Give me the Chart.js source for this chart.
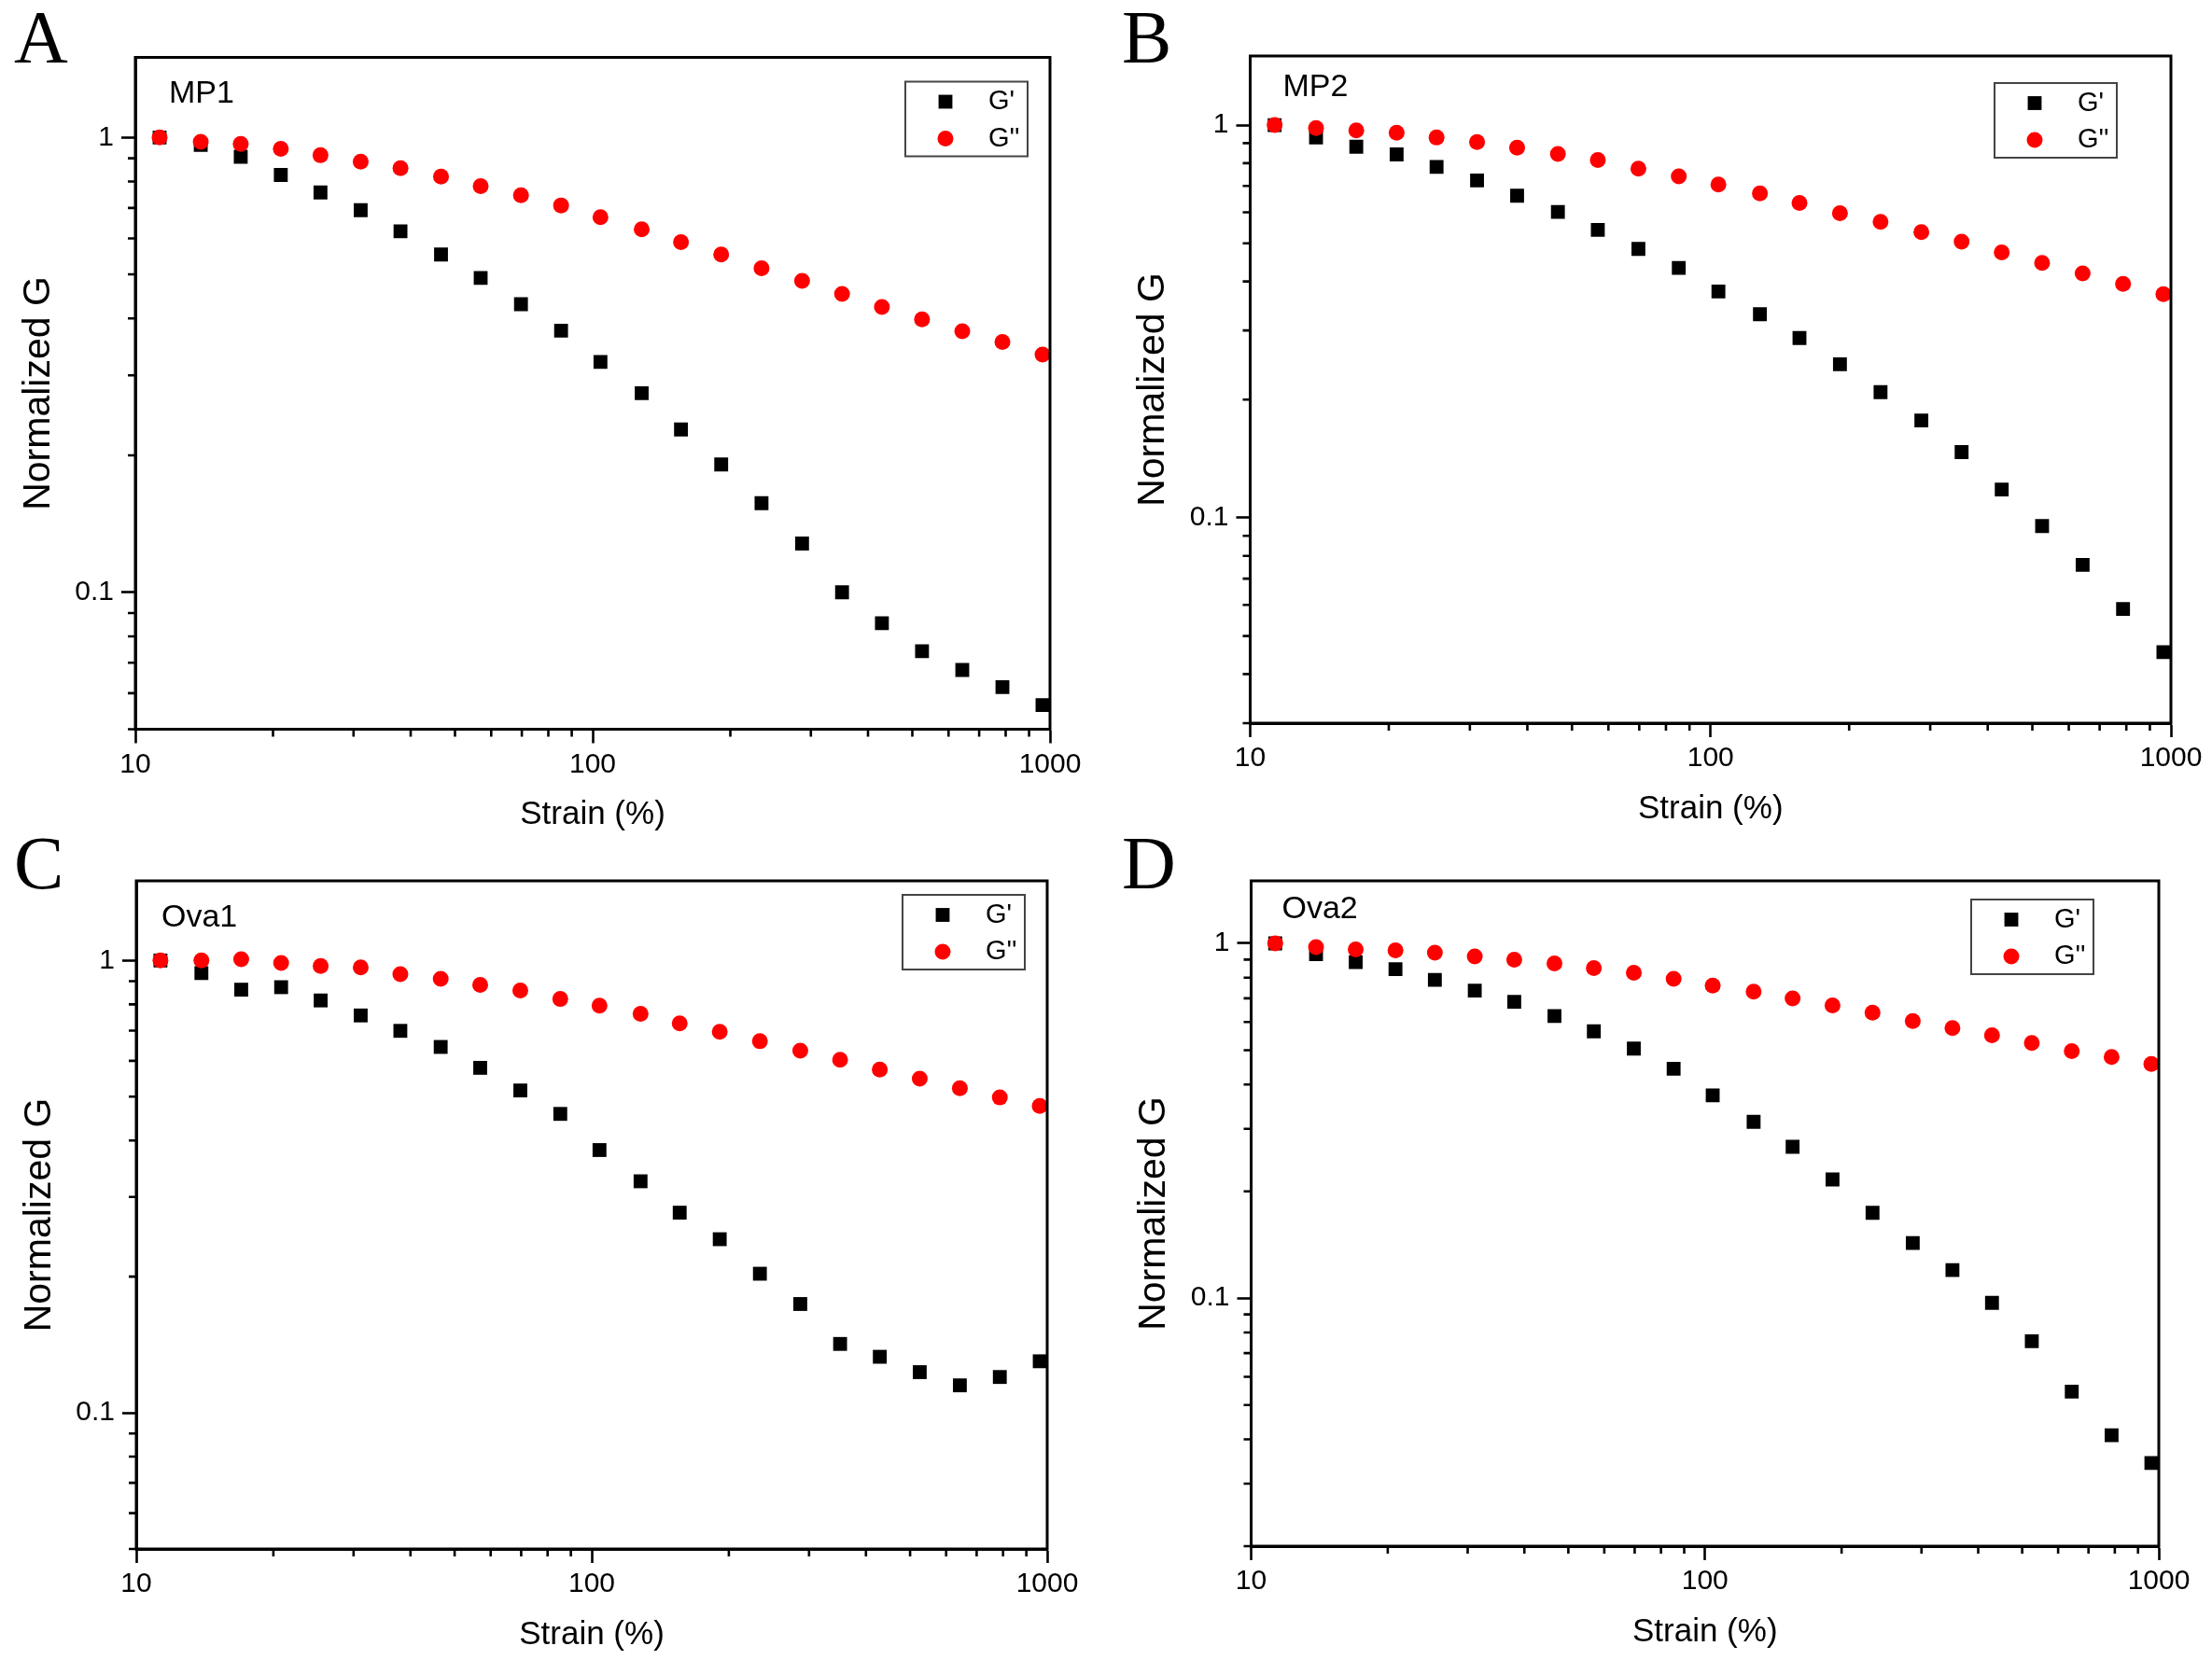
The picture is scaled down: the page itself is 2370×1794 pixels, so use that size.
<!DOCTYPE html>
<html>
<head>
<meta charset="utf-8">
<script src="https://cdn.jsdelivr.net/npm/chart.js@4.4.1/dist/chart.umd.min.js"></script>
<style>
html, body { margin: 0; padding: 0; background: #ffffff; }
#wrap { position: relative; width: 2370px; height: 1794px; background: #ffffff; }
.panel { position: absolute; width: 1185px; height: 897px; }
canvas { display: block; }
</style>
</head>
<body>
<div id="wrap">
  <div class="panel" style="left:0px;top:0px"><canvas id="cA" width="1185" height="897"></canvas></div>
  <div class="panel" style="left:1185px;top:0px"><canvas id="cB" width="1185" height="897"></canvas></div>
  <div class="panel" style="left:0px;top:897px"><canvas id="cC" width="1185" height="897"></canvas></div>
  <div class="panel" style="left:1185px;top:897px"><canvas id="cD" width="1185" height="897"></canvas></div>
</div>
<script>
// ---------------- DATA ----------------
const strain = [11.3, 13.9, 17.0, 20.8, 25.4, 31.1, 38.0, 46.6, 56.9, 69.7, 85.3, 104, 128, 156, 191, 234, 287, 351, 429, 525, 643, 787, 963];

const mp1Storage = [1.0, 0.963, 0.907, 0.827, 0.757, 0.692, 0.622, 0.553, 0.491, 0.430, 0.376, 0.321, 0.274, 0.228, 0.191, 0.157, 0.128, 0.100, 0.0855, 0.0742, 0.0675, 0.0619, 0.0565];
const mp1Loss    = [1.0, 0.978, 0.968, 0.944, 0.914, 0.885, 0.856, 0.820, 0.782, 0.746, 0.709, 0.668, 0.628, 0.589, 0.553, 0.516, 0.484, 0.453, 0.424, 0.398, 0.375, 0.355, 0.333];

const mp2Storage = [1.0, 0.930, 0.881, 0.842, 0.783, 0.723, 0.661, 0.601, 0.541, 0.484, 0.433, 0.377, 0.330, 0.287, 0.246, 0.209, 0.177, 0.147, 0.118, 0.0953, 0.0759, 0.0586, 0.0455];
const mp2Loss    = [1.0, 0.983, 0.969, 0.956, 0.930, 0.905, 0.876, 0.845, 0.815, 0.775, 0.741, 0.706, 0.670, 0.634, 0.597, 0.567, 0.534, 0.505, 0.474, 0.446, 0.419, 0.394, 0.371];

const ova1Storage = [1.0, 0.938, 0.862, 0.873, 0.816, 0.756, 0.699, 0.644, 0.579, 0.516, 0.458, 0.381, 0.325, 0.277, 0.242, 0.203, 0.174, 0.142, 0.133, 0.123, 0.115, 0.120, 0.130];
const ova1Loss    = [1.0, 1.0, 1.007, 0.988, 0.972, 0.965, 0.933, 0.911, 0.883, 0.858, 0.822, 0.795, 0.762, 0.726, 0.696, 0.663, 0.632, 0.603, 0.574, 0.548, 0.522, 0.498, 0.477];

const ova2Storage = [1.0, 0.932, 0.885, 0.846, 0.789, 0.736, 0.684, 0.624, 0.565, 0.505, 0.443, 0.373, 0.314, 0.267, 0.216, 0.174, 0.143, 0.120, 0.097, 0.0756, 0.0545, 0.0411, 0.0343];
const ova2Loss    = [1.0, 0.976, 0.961, 0.955, 0.941, 0.919, 0.899, 0.878, 0.851, 0.826, 0.794, 0.760, 0.731, 0.699, 0.668, 0.638, 0.604, 0.577, 0.551, 0.524, 0.497, 0.478, 0.457];

const seriesLabels = ["G'", "G''"];
const sampleNames = ["MP1", "MP2", "Ova1", "Ova2"];
const panelLetters = ["A", "B", "C", "D"];

const xMajorTicks = [10, 100, 1000];
const xMajorLabels = ["10", "100", "1000"];
const xMinorTicks = [20, 30, 40, 50, 60, 70, 80, 90, 200, 300, 400, 500, 600, 700, 800, 900];
const yMajorTicks = [0.1, 1];
const yMajorLabels = ["0.1", "1"];
const yMinorTicks = [0.02, 0.03, 0.04, 0.05, 0.06, 0.07, 0.08, 0.09, 0.2, 0.3, 0.4, 0.5, 0.6, 0.7, 0.8, 0.9];

const xMin = 10, xMax = 1000;
const yMins = [0.05, 0.03, 0.05, 0.02];
const yMax = 1.5;

const xTitle = "Strain (%)";
const yTitle = "Normalized G";

// ---------------- LAYOUT / STYLE ----------------
const CW = 1185, CH = 897;
const SANS = "'Liberation Sans', Arial, Helvetica, sans-serif";
const SERIF = "'Liberation Serif', 'Times New Roman', serif";
const Y_TITLE_SIZE = 41;
const X_TITLE_SIZE = 35;
const TICK_SIZE = 30;

const panelLayout = [
  { id: 'cA', left: 145,   top: 61.5, right: 1125, bottom: 781.5, letterX: 15, letterY: 67, nameDX: 36,   nameDY: 48.5, legRight: 24, legTop: 26 },
  { id: 'cB', left: 154.5, top: 60,   right: 1141, bottom: 775,   letterX: 17, letterY: 67, nameDX: 35,   nameDY: 43,   legRight: 58, legTop: 29 },
  { id: 'cC', left: 146,   top: 47,   right: 1122, bottom: 763,   letterX: 15, letterY: 55, nameDX: 27,   nameDY: 49,   legRight: 24, legTop: 15 },
  { id: 'cD', left: 155.5, top: 47,   right: 1128, bottom: 760,   letterX: 17, letterY: 55, nameDX: 33,   nameDY: 40,   legRight: 70, legTop: 20 }
];

const panelSeries = [
  [mp1Storage, mp1Loss],
  [mp2Storage, mp2Loss],
  [ova1Storage, ova1Loss],
  [ova2Storage, ova2Loss]
];

const markerStyles = [
  { pointStyle: 'rect', radius: 10.5, color: '#000000' },
  { pointStyle: 'circle', radius: 8.5, color: '#ff0000' }
];

const decorPlugin = {
  id: 'decor',
  afterDraw(chart) {
    const o = chart.options.plugins.decor;
    const ctx = chart.ctx;
    const a = chart.chartArea;
    const xs = chart.scales.x, ys = chart.scales.y;
    ctx.save();
    // frame
    ctx.strokeStyle = '#000';
    ctx.lineWidth = 3;
    ctx.lineJoin = 'miter';
    ctx.strokeRect(a.left, a.top, a.right - a.left, a.bottom - a.top);
    // minor ticks
    ctx.lineWidth = 2.6;
    ctx.beginPath();
    xMinorTicks.forEach(v => {
      if (v < xs.min || v > xs.max) return;
      const px = xs.getPixelForValue(v);
      ctx.moveTo(px, a.bottom); ctx.lineTo(px, a.bottom + 8);
    });
    yMinorTicks.forEach(v => {
      if (v < ys.min * 0.999 || v > ys.max) return;
      const py = ys.getPixelForValue(v);
      ctx.moveTo(a.left, py); ctx.lineTo(a.left - 8, py);
    });
    ctx.stroke();

    // panel letter
    ctx.fillStyle = '#000';
    ctx.textAlign = 'left';
    ctx.textBaseline = 'alphabetic';
    ctx.font = '80px ' + SERIF;
    ctx.fillText(o.letter, o.letterX, o.letterY);

    // sample name
    ctx.font = '34px ' + SANS;
    ctx.fillText(o.name, a.left + o.nameDX, a.top + o.nameDY);

    // legend
    const bw = 131, bh = 80;
    const bx = a.right - o.legRight - bw;
    const by = a.top + o.legTop;
    ctx.strokeStyle = '#444';
    ctx.lineWidth = 2;
    ctx.strokeRect(bx, by, bw, bh);
    const rows = [21.5, 61];
    chart.data.datasets.forEach((ds, i) => {
      const cy = by + rows[i];
      const ms = markerStyles[i];
      ctx.fillStyle = ms.color;
      ctx.strokeStyle = ms.color;
      Chart.helpers.drawPoint(ctx, { pointStyle: ms.pointStyle, radius: ms.radius, rotation: 0, borderWidth: 0 }, bx + 43, cy);
      ctx.fillStyle = '#000';
      ctx.font = '29px ' + SANS;
      ctx.textBaseline = 'middle';
      ctx.fillText(ds.label, bx + 89, cy);
    });
    ctx.restore();
  }
};

panelLayout.forEach((L, p) => {
  const series = panelSeries[p];
  const datasets = series.map((vals, s) => ({
    label: seriesLabels[s],
    data: strain.map((x, i) => ({ x: x, y: vals[i] })),
    showLine: false,
    pointStyle: markerStyles[s].pointStyle,
    pointRadius: markerStyles[s].radius,
    pointHoverRadius: markerStyles[s].radius,
    pointBackgroundColor: markerStyles[s].color,
    pointBorderColor: markerStyles[s].color,
    pointBorderWidth: 0,
    backgroundColor: markerStyles[s].color,
    borderColor: markerStyles[s].color,
    order: s === 0 ? 1 : 0
  }));

  new Chart(document.getElementById(L.id), {
    type: 'scatter',
    data: { datasets: datasets },
    options: {
      responsive: false,
      animation: false,
      devicePixelRatio: 1,
      events: [],
      layout: { padding: { left: 0, top: L.top, right: CW - L.right, bottom: 0 } },
      plugins: {
        legend: { display: false },
        tooltip: { enabled: false },
        decor: {
          letter: panelLetters[p], letterX: L.letterX, letterY: L.letterY,
          name: sampleNames[p], nameDX: L.nameDX, nameDY: L.nameDY,
          legRight: L.legRight, legTop: L.legTop
        }
      },
      scales: {
        x: {
          type: 'logarithmic',
          position: 'bottom',
          min: xMin,
          max: xMax,
          afterBuildTicks: (s) => { s.ticks = xMajorTicks.map(v => ({ value: v })); },
          afterFit: (s) => { s.height = CH - L.bottom; },
          ticks: {
            autoSkip: false,
            maxRotation: 0,
            minRotation: 0,
            padding: 5,
            color: '#000',
            font: { family: SANS, size: TICK_SIZE },
            callback: (v) => { const k = xMajorTicks.indexOf(v); return k >= 0 ? xMajorLabels[k] : ''; }
          },
          grid: { drawOnChartArea: false, drawTicks: true, tickLength: 15, tickWidth: 2.6, tickColor: '#000', color: '#000' },
          border: { display: true, color: '#000', width: 3 },
          title: {
            display: true, text: xTitle, color: '#000',
            font: { family: SANS, size: X_TITLE_SIZE },
            padding: { top: 0, bottom: (CH - L.bottom) - 92 - X_TITLE_SIZE * 0.6 }
          }
        },
        y: {
          type: 'logarithmic',
          position: 'left',
          min: yMins[p],
          max: yMax,
          afterBuildTicks: (s) => { s.ticks = yMajorTicks.map(v => ({ value: v })); },
          afterFit: (s) => { s.width = L.left; },
          ticks: {
            autoSkip: false,
            padding: 8,
            color: '#000',
            font: { family: SANS, size: TICK_SIZE },
            callback: (v) => { const k = yMajorTicks.indexOf(v); return k >= 0 ? yMajorLabels[k] : ''; }
          },
          grid: { drawOnChartArea: false, drawTicks: true, tickLength: 15, tickWidth: 2.6, tickColor: '#000', color: '#000' },
          border: { display: true, color: '#000', width: 3 },
          title: {
            display: true, text: yTitle, color: '#000',
            font: { family: SANS, size: Y_TITLE_SIZE },
            padding: { top: L.left - 103.5 - Y_TITLE_SIZE * 0.6, bottom: 0 }
          }
        }
      }
    },
    plugins: [decorPlugin]
  });
});
</script>
</body>
</html>
